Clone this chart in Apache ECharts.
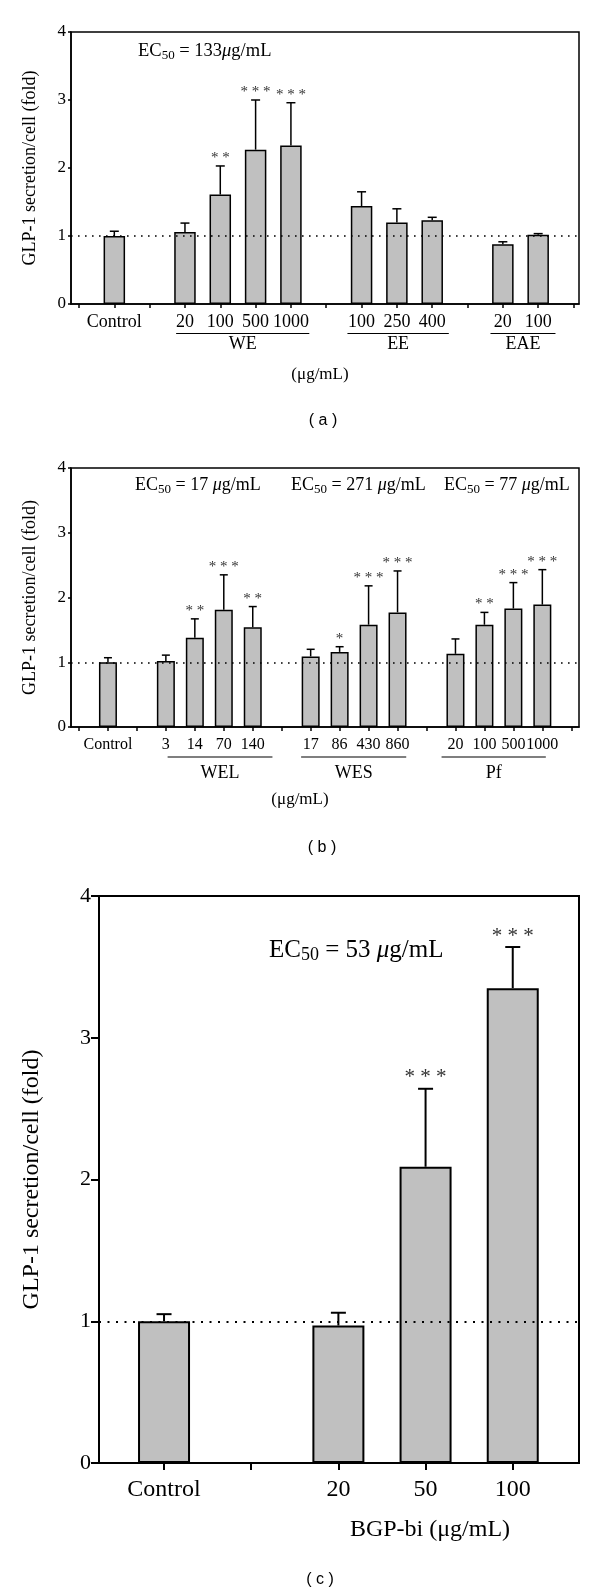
<!DOCTYPE html>
<html><head><meta charset="utf-8">
<script src="https://cdn.jsdelivr.net/npm/echarts@6/dist/echarts.min.js"></script>
<style>html,body{margin:0;padding:0;background:#fff}#c{width:600px;height:1595px}</style>
</head><body><div id="c"></div><script>
// ---------- DATA ----------
const yTitle = 'GLP-1 secretion/cell (fold)';
const yTicks = [0, 1, 2, 3, 4];

// Panel (a)
const catsA = ['', 'Control', '', '20', '100', '500', '1000', '', '100', '250', '400', '', '20', '100', ''];
const meanA = [null, 1.00, null, 1.06, 1.61, 2.27, 2.33, null, 1.44, 1.20, 1.23, null, 0.88, 1.02, null];
const errA  = [null, 0.07, null, 0.13, 0.42, 0.73, 0.63, null, 0.21, 0.20, 0.045, null, 0.035, 0.015, null];
const sigA  = ['', '', '', '', '**', '***', '***', '', '', '', '', '', '', '', ''];
const groupsA = ['WE', 'EE', 'EAE'];
const ec50A = ['133'];

// Panel (b)
const catsB = ['', 'Control', '', '3', '14', '70', '140', '', '17', '86', '430', '860', '', '20', '100', '500', '1000', ''];
const meanB = [null, 1.00, null, 1.02, 1.38, 1.81, 1.54, null, 1.09, 1.16, 1.58, 1.77, null, 1.13, 1.58, 1.83, 1.89, null];
const errB  = [null, 0.07, null, 0.09, 0.29, 0.54, 0.32, null, 0.11, 0.08, 0.60, 0.64, null, 0.23, 0.19, 0.40, 0.54, null];
const sigB  = ['', '', '', '', '**', '***', '**', '', '', '*', '***', '***', '', '', '**', '***', '***', ''];
const groupsB = ['WEL', 'WES', 'Pf'];
const ec50B = ['17', '271', '77'];

// Panel (c)
const catsC = ['Control', '', '20', '50', '100'];
const meanC = [1.00, null, 0.97, 2.09, 3.35];
const errC  = [0.05, null, 0.09, 0.55, 0.29];
const sigC  = ['', '', '', '***', '***'];
const ec50C = ['53'];
const xNameC = 'BGP-bi (μg/mL)';
const unitText = '(μg/mL)';

// ---------- LAYOUT ----------
const SERIF = 'Liberation Serif, Times New Roman, serif';
const SANS = 'Liberation Sans, Arial, sans-serif';
const panels = [
  { cats: catsA, mean: meanA, err: errA, sig: sigA, groups: groupsA, ec50: ec50A,
    grid: {left: 71, top: 32, width: 508, height: 272}, xMin: -0.2265, xMax: 14.156,
    spans: [[2.75, 6.52], [7.6, 10.47], [11.65, 13.49]],
    barW: 21.5, capW: 9, lw: 1.5, xFont: 18, yFont: 17, titleFont: 18, nameGap: 32,
    xTick: 4, yTick: 3, xMargin: 9, yMargin: 5, dash: [1.6, 5.4],
    lineOff: 29.5, nameOff: 40, groupFont: 18, sigGap: 8, sigFont: 15,
    ecPos: [[138, 51]], ecFont: 18.5, ecSpace: '',
    texts: [{t: unitText, x: 320, y: 375, f: 17, ff: SERIF}, {t: '( a )', x: 323, y: 421, f: 16, ff: SANS}] },
  { cats: catsB, mean: meanB, err: errB, sig: sigB, groups: groupsB, ec50: ec50B,
    grid: {left: 71, top: 468, width: 508, height: 259}, xMin: -0.276, xMax: 17.266,
    spans: [[3.06, 6.68], [7.67, 11.3], [12.52, 16.12]],
    barW: 18, capW: 8, lw: 1.5, xFont: 16, yFont: 17, titleFont: 18, nameGap: 32,
    xTick: 4, yTick: 3, xMargin: 10, yMargin: 5, dash: [1.6, 5.4],
    lineOff: 30, nameOff: 46, groupFont: 18, sigGap: 8, sigFont: 15,
    ecPos: [[135, 485], [291, 485], [444, 485]], ecFont: 18, ecSpace: ' ',
    texts: [{t: unitText, x: 300, y: 800, f: 17, ff: SERIF}, {t: '( b )', x: 322, y: 848, f: 16, ff: SANS}] },
  { cats: catsC, mean: meanC, err: errC, sig: sigC, groups: [], ec50: ec50C,
    grid: {left: 99, top: 896, width: 480, height: 567}, xMin: -0.746, xMax: 4.76,
    spans: [],
    barW: 52, capW: 15, lw: 2, xFont: 24, yFont: 22, titleFont: 24, nameGap: 55,
    xTick: 7, yTick: 8, xMargin: 15, yMargin: 8, dash: [2, 6.5],
    lineOff: 0, nameOff: 0, groupFont: 24, sigGap: 11, sigFont: 21,
    ecPos: [[269, 950]], ecFont: 25, ecSpace: ' ',
    texts: [{t: xNameC, x: 430, y: 1530, f: 24, ff: SERIF}, {t: '( c )', x: 320, y: 1580, f: 16, ff: SANS}] }
];

// ---------- BUILD ----------
const grid = [], xAxis = [], yAxis = [], series = [], graphic = [];
panels.forEach((p, k) => {
  grid.push(Object.assign({show: true, borderColor: '#000', borderWidth: p.lw, backgroundColor: 'transparent'}, p.grid));
  const idxAll = p.cats.map((c, i) => i);
  const idxLab = p.cats.map((c, i) => c ? i : -1).filter(i => i >= 0);
  xAxis.push({
    type: 'value', gridIndex: k, min: p.xMin, max: p.xMax,
    axisLine: {show: true, onZero: false, lineStyle: {color: '#000', width: p.lw}},
    axisTick: {show: true, inside: false, length: p.xTick, customValues: idxAll, lineStyle: {color: '#000', width: p.lw}},
    axisLabel: {show: true, customValues: idxLab, hideOverlap: false, showMinLabel: true, showMaxLabel: true,
      margin: p.xMargin, color: '#000', fontFamily: SERIF, fontSize: p.xFont,
      formatter: v => p.cats[Math.round(v)] || ''},
    splitLine: {show: false}
  });
  yAxis.push({
    type: 'value', gridIndex: k, min: yTicks[0], max: yTicks[yTicks.length - 1], interval: 1,
    name: yTitle, nameLocation: 'middle', nameGap: p.nameGap, nameRotate: 90,
    nameTextStyle: {color: '#000', fontFamily: SERIF, fontSize: p.titleFont},
    axisLine: {show: true, onZero: false, lineStyle: {color: '#000', width: p.lw}},
    axisTick: {show: true, inside: false, length: p.yTick, lineStyle: {color: '#000', width: p.lw}},
    axisLabel: {color: '#000', fontFamily: SERIF, fontSize: p.yFont, margin: p.yMargin, showMinLabel: true, showMaxLabel: true},
    splitLine: {show: false}
  });
  const barData = [], errData = [];
  p.mean.forEach((v, i) => { if (v != null) { barData.push([i, v]); errData.push([i, v, p.err[i]]); } });
  series.push({
    type: 'bar', xAxisIndex: k, yAxisIndex: k, data: barData, barWidth: p.barW, silent: true,
    itemStyle: {color: '#c0c0c0', borderColor: '#000', borderWidth: p.lw},
    markLine: {silent: true, symbol: 'none', label: {show: false},
      lineStyle: {color: '#000', type: p.dash, width: p.lw}, data: [{yAxis: 1}]},
    z: 2
  });
  series.push({
    type: 'custom', xAxisIndex: k, yAxisIndex: k, data: errData, silent: true, z: 1,
    encode: {x: 0, y: 1},
    renderItem: (params, api) => {
      const x = api.value(0), m = api.value(1), e = api.value(2);
      const p0 = api.coord([x, m]), p1 = api.coord([x, m + e]);
      const ch = [
        {type: 'line', shape: {x1: p0[0], y1: p0[1], x2: p1[0], y2: p1[1]}, style: {stroke: '#000', lineWidth: p.lw}},
        {type: 'line', shape: {x1: p1[0] - p.capW / 2, y1: p1[1], x2: p1[0] + p.capW / 2, y2: p1[1]}, style: {stroke: '#000', lineWidth: p.lw}}
      ];
      const s = p.sig[Math.round(x)];
      if (s) ch.push({type: 'text', x: p1[0], y: p1[1] - p.sigGap,
        style: {text: s.split('').join(' '), fill: '#333', fontFamily: SERIF, fontSize: p.sigFont, align: 'center', verticalAlign: 'middle'}});
      return {type: 'group', children: ch};
    }
  });
  if (p.groups.length) {
    series.push({
      type: 'custom', xAxisIndex: k, yAxisIndex: k, data: p.spans, silent: true, clip: false,
      encode: {x: [0, 1]},
      renderItem: (params, api) => {
        const a = api.coord([api.value(0), 0]), b = api.coord([api.value(1), 0]);
        return {type: 'group', children: [
          {type: 'line', shape: {x1: a[0], y1: a[1] + p.lineOff, x2: b[0], y2: a[1] + p.lineOff}, style: {stroke: '#000', lineWidth: 1.2}},
          {type: 'text', x: (a[0] + b[0]) / 2, y: a[1] + p.nameOff,
            style: {text: p.groups[params.dataIndex], fill: '#000', fontFamily: SERIF, fontSize: p.groupFont, align: 'center', verticalAlign: 'middle'}}
        ]};
      }
    });
  }
  p.ec50.forEach((v, j) => {
    graphic.push({type: 'text', x: p.ecPos[j][0], y: p.ecPos[j][1], silent: true,
      style: {text: '{n|EC}{s|50}{n| = ' + v + p.ecSpace + '}{i|μ}{n|g/mL}', align: 'left', verticalAlign: 'middle',
        rich: {
          n: {fontFamily: SERIF, fontSize: p.ecFont, fill: '#000', lineHeight: p.ecFont + 4},
          s: {fontFamily: SERIF, fontSize: Math.round(p.ecFont * 0.7), fill: '#000', lineHeight: Math.round(p.ecFont * 0.7), verticalAlign: 'bottom'},
          i: {fontFamily: SERIF, fontSize: p.ecFont, fontStyle: 'italic', fill: '#000', lineHeight: p.ecFont + 4}
        }}});
  });
  p.texts.forEach(t => {
    graphic.push({type: 'text', x: t.x, y: t.y, silent: true,
      style: {text: t.t, fontFamily: t.ff, fontSize: t.f, fill: '#000', align: 'center', verticalAlign: 'middle'}});
  });
});

const chart = echarts.init(document.getElementById('c'), null, {renderer: 'canvas'});
chart.setOption({animation: false, backgroundColor: '#fff', grid, xAxis, yAxis, series, graphic});
</script></body></html>
